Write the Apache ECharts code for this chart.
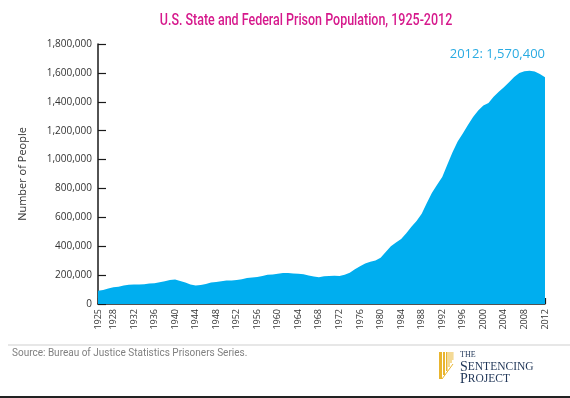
<!DOCTYPE html>
<html>
<head>
<meta charset="utf-8">
<script src="https://cdn.jsdelivr.net/npm/echarts@6/dist/echarts.min.js"></script>
<style>
  html, body { margin: 0; padding: 0; background: #fff; }
  #chart { width: 570px; height: 398px; }
</style>
</head>
<body>
<div id="chart"></div>
<script>
// years on the x axis
const years = [];
for (let y = 1925; y <= 2012; y++) years.push(String(y));

// prison population
const population = [
  91000, 97000, 108000, 116000, 120000, 128000, 133000, 135000, 135000, 137000,
  142000, 143000, 150000, 158000, 166000, 170000, 160000, 148000, 135000, 128000,
  132000, 138000, 148000, 152000, 158000, 163000, 163000, 166000, 172000, 180000,
  183000, 187000, 194000, 202000, 205000, 209000, 214000, 214000, 212000, 210000,
  206000, 197000, 190000, 185000, 192000, 194000, 195000, 194000, 202000, 216000,
  240000, 262000, 280000, 292000, 302000, 320000, 360000, 400000, 425000, 450000,
  490000, 535000, 575000, 625000, 700000, 770000, 825000, 880000, 965000, 1050000,
  1125000, 1180000, 1240000, 1295000, 1340000, 1375000, 1392000, 1435000, 1470000, 1500000,
  1535000, 1572000, 1600000, 1612000, 1615000, 1610000, 1592000, 1570400
];

const yTicks = [0, 200000, 400000, 600000, 800000, 1000000, 1200000, 1400000, 1600000, 1800000];

const showYear = (idx, val) => val === '1925' || Number(val) % 4 === 0;

const chart = echarts.init(document.getElementById('chart'));

const last = population.length - 1;

chart.setOption({
  animation: false,
  backgroundColor: '#fff',
  grid: { left: 98, right: 25, top: 44, bottom: 94 },
  xAxis: {
    type: 'category',
    data: years,
    boundaryGap: false,
    axisLine: { lineStyle: { color: '#1a1a1a', width: 1.5 } },
    axisTick: { inside: true, length: 6, interval: showYear, lineStyle: { color: '#1a1a1a', width: 1.2 } },
    axisLabel: {
      interval: showYear,
      rotate: 90,
      color: '#333',
      fontFamily: 'Open Sans',
      fontSize: 9,
      margin: 5
    }
  },
  yAxis: {
    type: 'value',
    min: 0,
    max: 1800000,
    interval: 200000,
    name: 'Number of People',
    nameLocation: 'middle',
    nameGap: 70,
    nameTextStyle: { color: '#333', fontFamily: 'Open Sans', fontSize: 11 },
    axisLine: { show: true, lineStyle: { color: '#1a1a1a', width: 1.5 } },
    axisTick: { show: true, inside: true, length: 8, lineStyle: { color: '#1a1a1a', width: 1.2 } },
    splitLine: { show: false },
    axisLabel: {
      color: '#333',
      fontFamily: 'Open Sans',
      fontSize: 10,
      margin: 6,
      formatter: v => yTicks.indexOf(v) >= 0 ? v.toLocaleString('en-US') : ''
    }
  },
  series: [{
    type: 'line',
    data: population,
    symbol: 'none',
    smooth: false,
    lineStyle: { width: 0 },
    areaStyle: { color: '#00aeef', opacity: 1 },
    markPoint: {
      symbol: 'circle',
      symbolSize: 0,
      silent: true,
      data: [{
        coord: [years[last], population[last]],
        label: {
          show: true,
          position: 'top',
          align: 'right',
          distance: 16,
          formatter: years[last] + ': ' + population[last].toLocaleString('en-US'),
          color: '#29abe2',
          fontFamily: 'Open Sans',
          fontSize: 13
        }
      }]
    },
    z: 1
  }],
  graphic: [
    {
      type: 'text', x: 306, y: 21, scaleX: 0.78,
      style: {
        text: 'U.S. State and Federal Prison Population, 1925-2012',
        fill: '#d6198c', font: '500 16px Roboto',
        align: 'center', verticalAlign: 'middle'
      }
    },
    { type: 'line', shape: { x1: 8, y1: 345, x2: 570, y2: 345 }, style: { stroke: '#cfcfcf', lineWidth: 1 } },
    {
      type: 'text', left: 12, top: 348,
      style: { text: 'Source: Bureau of Justice Statistics Prisoners Series.', fill: '#808080', font: '10px Roboto' }
    },
    // logo bars
    { type: 'rect', shape: { x: 439, y: 352, width: 3, height: 27 }, style: { fill: '#e9b52f' } },
    { type: 'rect', shape: { x: 443, y: 352, width: 2, height: 23 }, style: { fill: '#e9b52f' } },
    { type: 'rect', shape: { x: 446, y: 352, width: 1.5, height: 19 }, style: { fill: '#e9b52f' } },
    { type: 'rect', shape: { x: 448.5, y: 352, width: 1, height: 15 }, style: { fill: '#e9b52f' } },
    { type: 'rect', shape: { x: 450.5, y: 352, width: 1, height: 11 }, style: { fill: '#e9b52f' } },
    { type: 'rect', shape: { x: 452.5, y: 352, width: 0.8, height: 8 }, style: { fill: '#e9b52f' } },
    { type: 'line', shape: { x1: 442, y1: 379, x2: 453, y2: 364 }, style: { stroke: '#e9b52f', lineWidth: 1 } },
    {
      type: 'text', left: 460, top: 351,
      style: { text: 'THE', fill: '#1f3557', font: '8px "Liberation Serif"' }
    },
    {
      type: 'text', left: 460, top: 360,
      style: {
        text: '{a|S}{b|ENTENCING}',
        rich: {
          a: { fontFamily: 'Liberation Serif', fontSize: 14, fill: '#1f3557', color: '#1f3557' },
          b: { fontFamily: 'Liberation Serif', fontSize: 11.5, fill: '#1f3557', color: '#1f3557' }
        }
      }
    },
    {
      type: 'text', left: 460, top: 372,
      style: {
        text: '{a|P}{b|ROJECT}',
        rich: {
          a: { fontFamily: 'Liberation Serif', fontSize: 14, fill: '#1f3557', color: '#1f3557' },
          b: { fontFamily: 'Liberation Serif', fontSize: 11.5, fill: '#1f3557', color: '#1f3557' }
        }
      }
    },
    { type: 'rect', shape: { x: 0, y: 396, width: 570, height: 2 }, style: { fill: '#222' } }
  ]
});
</script>
</body>
</html>
